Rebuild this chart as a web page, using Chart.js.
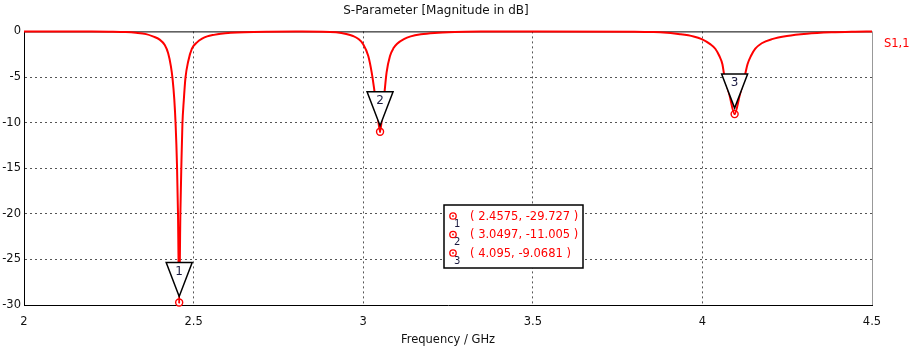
<!DOCTYPE html>
<html>
<head>
<meta charset="utf-8">
<script src="https://cdn.jsdelivr.net/npm/chart.js@4.4.1/dist/chart.umd.min.js"></script>
<style>
  html, body { margin: 0; padding: 0; background: #fff; }
  #wrap { width: 912px; height: 352px; position: relative; }
</style>
</head>
<body>
<div id="wrap"><canvas id="sparamChart"></canvas></div>
<script>
// S1,1 trace (GHz / dB)
const freqs = [
  2.0, 2.2, 2.25, 2.3, 2.33, 2.36, 2.38, 2.40, 2.415, 2.425, 2.433, 2.438, 2.443, 2.447, 2.451, 2.454, 2.4575,
  2.461, 2.464, 2.467, 2.471, 2.476, 2.484, 2.495, 2.51, 2.525, 2.54, 2.56, 2.58, 2.61, 2.65, 2.72, 2.8,
  2.88, 2.92, 2.95, 2.97, 2.985, 3.0, 3.015, 3.025, 3.033, 3.042, 3.0497,
  3.056, 3.062, 3.069, 3.079, 3.09, 3.1, 3.12, 3.14, 3.17, 3.21, 3.27, 3.35, 3.5,
  3.8, 3.85, 3.8755, 3.934, 3.974, 3.998, 4.023, 4.038, 4.05, 4.059, 4.064, 4.08, 4.095,
  4.11, 4.126, 4.133, 4.143, 4.156, 4.175, 4.205, 4.249, 4.308, 4.38, 4.45, 4.5
];
const s11 = [
  0, -0.01, -0.03, -0.07, -0.15, -0.3, -0.55, -0.9, -1.5, -2.4, -3.8, -5.2, -7.4, -10.2, -14.6, -20, -29.727,
  -20, -14.6, -10.2, -7.6, -5.1, -3.3, -1.9, -1.2, -0.8, -0.55, -0.38, -0.26, -0.16, -0.09, -0.04, -0.02,
  -0.03, -0.1, -0.28, -0.5, -0.8, -1.4, -2.7, -4.5, -6.5, -9.0, -11.005,
  -9.2, -7.0, -4.5, -2.7, -1.8, -1.35, -0.85, -0.55, -0.32, -0.17, -0.07, -0.02, 0,
  -0.03, -0.07, -0.1, -0.3, -0.55, -0.85, -1.4, -1.9, -2.7, -3.6, -4.7, -7.0, -9.0681,
  -7.0, -4.7, -3.6, -2.7, -1.9, -1.3, -0.85, -0.5, -0.25, -0.1, -0.03, 0
];

// markers
const markerFreq = [2.4575, 3.0497, 4.095];
const markerDb = [-29.727, -11.005, -9.0681];
const markerText = ['( 2.4575, -29.727 )', '( 3.0497, -11.005 )', '( 4.095, -9.0681 )'];

// axis ticks
const xTicks = [2, 2.5, 3, 3.5, 4, 4.5];
const yTicks = [0, -5, -10, -15, -20, -25, -30];

const RED = '#ff0000';
const FONT = '"DejaVu Sans", Verdana, sans-serif';

function gridColor(ctx, ends) {
    return ends.includes(ctx.tick.value) ? 'rgba(0,0,0,0)' : '#555';
}

// extra drawing: frame, marker flags, marker table, trace name
const markerPlugin = {
    id: 'markers',
    beforeDatasetsDraw(chart) {
        const { ctx, chartArea: a } = chart;
        ctx.save();
        ctx.lineWidth = 1;
        ctx.strokeStyle = '#999';
        ctx.beginPath();
        ctx.moveTo(a.right + 0.5, a.top);
        ctx.lineTo(a.right + 0.5, a.bottom);
        ctx.stroke();
        ctx.strokeStyle = '#000';
        ctx.beginPath();
        ctx.moveTo(a.left, a.top + 0.5);
        ctx.lineTo(a.right, a.top + 0.5);
        ctx.stroke();
        ctx.restore();
    },
    afterDatasetsDraw(chart) {
        const { ctx, scales: { x, y } } = chart;
        ctx.save();
        markerFreq.forEach((f, i) => {
            const px = x.getPixelForValue(f);
            const py = y.getPixelForValue(markerDb[i]);
            // centre dot of the marker ring
            ctx.fillStyle = RED;
            ctx.beginPath();
            ctx.arc(px, py, 1, 0, Math.PI * 2);
            ctx.fill();
            // flag triangle
            ctx.fillStyle = '#fff';
            ctx.strokeStyle = '#000';
            ctx.lineWidth = 1.5;
            ctx.beginPath();
            ctx.moveTo(px - 13, py - 40);
            ctx.lineTo(px + 13, py - 40);
            ctx.lineTo(px, py - 6);
            ctx.closePath();
            ctx.fill();
            ctx.stroke();
            ctx.fillStyle = '#1a1a40';
            ctx.font = '12px ' + FONT;
            ctx.textAlign = 'center';
            ctx.textBaseline = 'middle';
            ctx.fillText(String(i + 1), px, py - 31);
        });

        // marker value box
        const bx = 444, by = 205, bw = 139, bh = 63;
        ctx.fillStyle = '#fff';
        ctx.fillRect(bx, by, bw, bh);
        ctx.strokeStyle = '#000';
        ctx.lineWidth = 1.5;
        ctx.strokeRect(bx, by, bw, bh);
        markerText.forEach((t, i) => {
            const ry = by + 11 + i * 18.5;
            ctx.strokeStyle = RED;
            ctx.lineWidth = 1.3;
            ctx.beginPath();
            ctx.arc(bx + 9, ry, 3.2, 0, Math.PI * 2);
            ctx.stroke();
            ctx.fillStyle = RED;
            ctx.beginPath();
            ctx.arc(bx + 9, ry, 0.9, 0, Math.PI * 2);
            ctx.fill();
            ctx.fillStyle = '#1a1a40';
            ctx.font = '10px ' + FONT;
            ctx.textAlign = 'left';
            ctx.textBaseline = 'middle';
            ctx.fillText(String(i + 1), bx + 10, ry + 8);
            ctx.fillStyle = RED;
            ctx.font = '11.5px ' + FONT;
            ctx.fillText(t, bx + 26, ry + 1);
        });

        // trace name
        ctx.fillStyle = RED;
        ctx.font = '11.5px ' + FONT;
        ctx.textAlign = 'left';
        ctx.textBaseline = 'middle';
        ctx.fillText('S1,1', 884, 44);
        ctx.restore();
    }
};

new Chart(document.getElementById('sparamChart').getContext('2d'), {
    type: 'line',
    data: {
        datasets: [{
            label: 'S1,1',
            data: freqs.map((f, i) => ({ x: f, y: s11[i] })),
            borderColor: RED,
            borderWidth: 2,
            pointRadius: 0,
            cubicInterpolationMode: 'monotone',
            clip: false
        }, {
            label: 'markers',
            data: markerFreq.map((f, i) => ({ x: f, y: markerDb[i] })),
            showLine: false,
            pointRadius: 3.5,
            pointBorderWidth: 1.4,
            pointBorderColor: RED,
            pointBackgroundColor: '#fff',
            clip: false
        }]
    },
    options: {
        responsive: true,
        maintainAspectRatio: false,
        animation: false,
        events: [],
        layout: { padding: { top: 0, right: 40, bottom: 0, left: 0 } },
        plugins: {
            legend: { display: false },
            tooltip: { enabled: false },
            title: {
                display: true,
                text: 'S-Parameter [Magnitude in dB]',
                color: '#111',
                font: { family: FONT, size: 12, weight: 'normal' },
                padding: { top: 4, bottom: 13 }
            }
        },
        scales: {
            x: {
                type: 'linear',
                min: xTicks[0],
                max: xTicks[xTicks.length - 1],
                afterFit: (scale) => { scale.height = 47; },
                afterBuildTicks: (scale) => { scale.ticks = xTicks.map(v => ({ value: v })); },
                border: { color: '#000', width: 1, dash: [2, 3] },
                grid: {
                    drawTicks: false,
                    color: (ctx) => gridColor(ctx, [2, 4.5])
                },
                ticks: {
                    padding: 10,
                    color: '#111',
                    font: { family: FONT, size: 11.5 },
                    maxRotation: 0,
                    callback: (v) => String(v)
                },
                title: {
                    display: true,
                    text: 'Frequency / GHz',
                    color: '#111',
                    font: { family: FONT, size: 11.5 },
                    padding: { top: 0, bottom: 5 }
                }
            },
            y: {
                min: -30,
                max: 0,
                afterFit: (scale) => { scale.width = 24; },
                afterBuildTicks: (scale) => { scale.ticks = yTicks.map(v => ({ value: v })); },
                border: { color: '#000', width: 1, dash: [2, 3] },
                grid: {
                    drawTicks: false,
                    color: (ctx) => gridColor(ctx, [0, -30])
                },
                ticks: {
                    padding: 3,
                    color: '#111',
                    font: { family: FONT, size: 11.5 },
                    callback: (v) => String(v)
                }
            }
        }
    },
    plugins: [markerPlugin]
});
</script>
</body>
</html>
